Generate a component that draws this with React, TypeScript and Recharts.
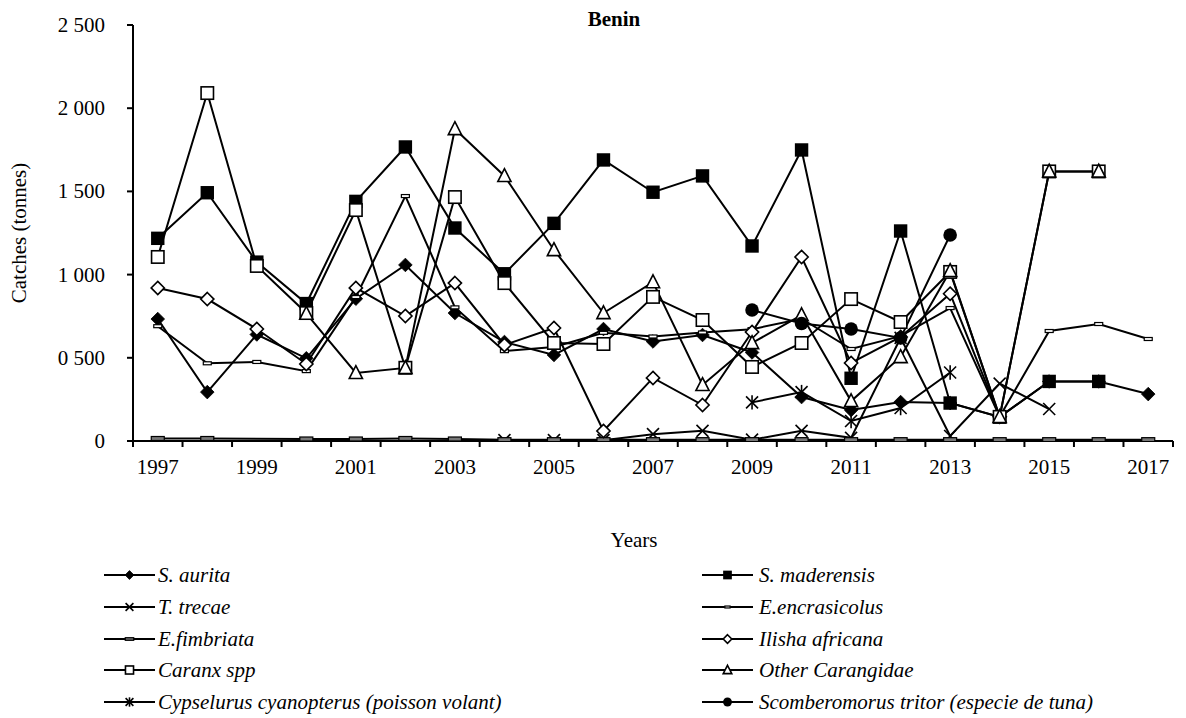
import React from 'react';
import { LineChart, Line, XAxis, YAxis, Legend, Customized } from 'recharts';

// ---------- DATA ----------
const years = [1997, 1998, 1999, 2000, 2001, 2002, 2003, 2004, 2005, 2006, 2007, 2008, 2009, 2010, 2011, 2012, 2013, 2014, 2015, 2016, 2017];

const sAurita = [733, 294, 640, 497, 855, 1058, 769, 595, 517, 673, 598, 637, 532, 264, 186, 234, 228, 145, 358, 358, 282];
const sMaderensis = [1218, 1492, 1075, 826, 1440, 1767, 1280, 1005, 1308, 1689, 1495, 1593, 1172, 1749, 377, 1262, 228, 145, 358, 358, null];
const tTrecae = [null, null, null, null, null, null, null, 5, 5, 5, 41, 61, 8, 61, 19, 620, 30, 345, 192, null, null];
const eEncrasicolus = [690, 467, 475, 420, 865, 1472, 803, 540, 565, 650, 628, 652, 672, 735, 553, 630, 799, 145, 661, 703, 613];
const eFimbriata = [15, 15, null, 12, 12, 15, 12, 8, 8, 8, 8, 8, 8, 8, 8, 8, 8, 8, 8, 8, 8];
const ilishaAfricana = [920, 853, 673, 463, 920, 751, 949, 577, 679, 60, 379, 216, 655, 1106, 469, 625, 885, 145, null, null, null];
const caranxSpp = [1106, 2091, 1052, 769, 1388, 440, 1466, 949, 589, 583, 866, 727, 445, 589, 853, 715, 1016, 145, 1620, 1620, null];
const otherCarangidae = [null, null, null, 765, 409, 439, 1875, 1593, 1148, 769, 955, 337, 589, 757, 240, 505, 1022, 145, 1620, 1620, null];
const cypselurus = [null, null, null, null, null, null, null, null, null, null, null, null, 232, 294, 120, 198, 412, null, null, null, null];
const scomberomorus = [null, null, null, null, null, null, null, null, null, null, null, null, 787, 706, 673, 619, 1238, null, null, null, null];

const yTicks = [0, 500, 1000, 1500, 2000, 2500];
const yTickLabels = ['0', '0 500', '1 000', '1 500', '2 000', '2 500'];

const seriesNames = [
  'S. aurita',
  'S. maderensis',
  'T. trecae',
  'E.encrasicolus',
  'E.fimbriata',
  'Ilisha africana',
  'Caranx spp',
  'Other Carangidae',
  'Cypselurus cyanopterus (poisson volant)',
  'Scomberomorus tritor (especie de tuna)',
];
const seriesKeys = ['sAurita', 'sMaderensis', 'tTrecae', 'eEncrasicolus', 'eFimbriata', 'ilisha', 'caranx', 'otherCarangidae', 'cypselurus', 'scomberomorus'];
const seriesValues = [sAurita, sMaderensis, tTrecae, eEncrasicolus, eFimbriata, ilishaAfricana, caranxSpp, otherCarangidae, cypselurus, scomberomorus];
const seriesShapes = ['diamondFilled', 'squareFilled', 'x', 'dashSmall', 'dashLarge', 'diamondOpen', 'squareOpen', 'triangleOpen', 'asterisk', 'circleFilled'];

const data = years.map((y, i) => {
  const row: Record<string, any> = { year: String(y) };
  seriesKeys.forEach((k, j) => {
    row[k] = seriesValues[j][i];
  });
  return row;
});

// ---------- LAYOUT ----------
const W = 1186;
const H = 718;
const MARGIN = { top: 25, right: 13, left: 0, bottom: 247 };
const Y_AXIS_W = 133;
const X_AXIS_H = 30;
const PLOT_W = W - MARGIN.left - MARGIN.right - Y_AXIS_W;
const BAND = PLOT_W / years.length;
const FONT = '"Liberation Serif", "Times New Roman", Times, serif';
const FS = 21;

function Marker({ shape, cx, cy, s = 1 }: { shape: string; cx: number; cy: number; s?: number }) {
  const sw = 1.6;
  switch (shape) {
    case 'diamondFilled': {
      const h = 6.8 * s;
      return <polygon points={`${cx},${cy - h} ${cx + h},${cy} ${cx},${cy + h} ${cx - h},${cy}`} fill="#000" stroke="#000" strokeWidth={0.8} />;
    }
    case 'diamondOpen': {
      const h = 6.6 * s;
      return <polygon points={`${cx},${cy - h} ${cx + h},${cy} ${cx},${cy + h} ${cx - h},${cy}`} fill="#fff" stroke="#000" strokeWidth={sw} />;
    }
    case 'squareFilled': {
      const h = 6.7 * s;
      return <rect x={cx - h} y={cy - h} width={2 * h} height={2 * h} fill="#000" />;
    }
    case 'squareOpen': {
      const h = 6.2 * s;
      return <rect x={cx - h} y={cy - h} width={2 * h} height={2 * h} fill="#fff" stroke="#000" strokeWidth={sw} />;
    }
    case 'triangleOpen': {
      const h = 6.6 * s;
      return <polygon points={`${cx},${cy - h * 1.1} ${cx + h},${cy + h * 0.85} ${cx - h},${cy + h * 0.85}`} fill="#fff" stroke="#000" strokeWidth={sw} />;
    }
    case 'x': {
      const h = 6 * s;
      return (
        <g stroke="#000" strokeWidth={sw}>
          <line x1={cx - h} y1={cy - h} x2={cx + h} y2={cy + h} />
          <line x1={cx - h} y1={cy + h} x2={cx + h} y2={cy - h} />
        </g>
      );
    }
    case 'asterisk': {
      const h = 6 * s;
      return (
        <g stroke="#000" strokeWidth={sw}>
          <line x1={cx - h} y1={cy - h} x2={cx + h} y2={cy + h} />
          <line x1={cx - h} y1={cy + h} x2={cx + h} y2={cy - h} />
          <line x1={cx} y1={cy - h * 1.2} x2={cx} y2={cy + h * 1.2} />
        </g>
      );
    }
    case 'dashSmall': {
      const w = 8 * s;
      const h = 3 * s;
      return <rect x={cx - w / 2} y={cy - h / 2} width={w} height={h} fill="#fff" stroke="#000" strokeWidth={1.2} />;
    }
    case 'dashLarge': {
      const w = 13 * s;
      const h = 4 * s;
      return <rect x={cx - w / 2} y={cy - h / 2} width={w} height={h} fill="#777" stroke="#000" strokeWidth={1.2} />;
    }
    case 'circleFilled':
    default:
      return <circle cx={cx} cy={cy} r={6.8 * s} fill="#000" />;
  }
}

const XTick = (props: any) => {
  const { x, y, payload, index } = props;
  const i = typeof index === 'number' ? index : payload?.index ?? 0;
  return (
    <g>
      <line x1={x - BAND / 2} x2={x - BAND / 2} y1={y} y2={y + 6} stroke="#000" strokeWidth={2} />
      {i === years.length - 1 && <line x1={x + BAND / 2} x2={x + BAND / 2} y1={y} y2={y + 6} stroke="#000" strokeWidth={2} />}
      {i % 2 === 0 && (
        <text x={x} y={y + 33} textAnchor="middle" fontFamily={FONT} fontSize={FS} fill="#000">
          {payload.value}
        </text>
      )}
    </g>
  );
};

const YTick = (props: any) => {
  const { x, y, payload } = props;
  const idx = yTicks.indexOf(Number(payload.value));
  return (
    <g>
      <line x1={x - 6} x2={x} y1={y} y2={y} stroke="#000" strokeWidth={2} />
      <text x={x - 28} y={y + 7} textAnchor="end" fontFamily={FONT} fontSize={FS} fill="#000">
        {idx >= 0 ? yTickLabels[idx] : payload.value}
      </text>
    </g>
  );
};

const renderLegend = () => (
  <div style={{ position: 'relative', width: W, height: 160, fontFamily: FONT, fontSize: FS, fontStyle: 'italic', color: '#000' }}>
    {seriesNames.map((name, i) => {
      const col = i % 2;
      const row = Math.floor(i / 2);
      const cy = 16 + row * 31.75;
      const x0 = col ? 702 : 104;
      const x1 = col ? 753 : 155;
      const tx = col ? 759 : 158;
      const len = x1 - x0;
      return (
        <React.Fragment key={seriesKeys[i]}>
          <svg style={{ position: 'absolute', left: x0 - 2, top: cy - 10 }} width={len + 4} height={20}>
            <line x1={2} x2={len + 2} y1={10} y2={10} stroke="#000" strokeWidth={2} />
            <Marker shape={seriesShapes[i]} cx={len / 2 + 2} cy={10} s={0.65} />
          </svg>
          <span style={{ position: 'absolute', left: tx, top: cy - 12, lineHeight: '24px', whiteSpace: 'nowrap' }}>{name}</span>
        </React.Fragment>
      );
    })}
  </div>
);

const Titles = () => (
  <g fontFamily={FONT} fill="#000">
    <text x={614} y={26} textAnchor="middle" fontSize={FS} fontWeight="bold">
      Benin
    </text>
    <text x={634} y={547} textAnchor="middle" fontSize={FS}>
      Years
    </text>
    <text transform="translate(26,233) rotate(-90)" textAnchor="middle" fontSize={FS}>
      Catches (tonnes)
    </text>
  </g>
);

export default function App() {
  return (
    <div style={{ position: 'absolute', left: 0, top: 0, width: W, height: H, background: '#fff' }}>
      <LineChart width={W} height={H} data={data} margin={MARGIN}>
        <XAxis
          dataKey="year"
          type="category"
          interval={0}
          height={X_AXIS_H}
          padding={{ left: BAND / 2, right: BAND / 2 }}
          tickLine={false}
          tickSize={0}
          tickMargin={0}
          axisLine={{ stroke: '#000', strokeWidth: 2 }}
          tick={<XTick />}
        />
        <YAxis
          type="number"
          domain={[0, 2500]}
          ticks={yTicks}
          interval={0}
          width={Y_AXIS_W}
          tickLine={false}
          tickSize={0}
          tickMargin={0}
          axisLine={{ stroke: '#000', strokeWidth: 2 }}
          tick={<YTick />}
          allowDataOverflow
        />
        {seriesKeys.map((k, j) => (
          <Line
            key={k}
            dataKey={k}
            name={seriesNames[j]}
            type="linear"
            stroke="#000"
            strokeWidth={2}
            isAnimationActive={false}
            connectNulls={k === 'eFimbriata'}
            activeDot={false}
            legendType="none"
            dot={(p: any) => {
              const key = `${k}-dot-${p.index}`;
              if (p.cx == null || p.cy == null || p.value == null || Number.isNaN(p.cy)) return <g key={key} />;
              return (
                <g key={key}>
                  <Marker shape={seriesShapes[j]} cx={p.cx} cy={p.cy} />
                </g>
              );
            }}
          />
        ))}
        <Legend
          layout="vertical"
          align="center"
          verticalAlign="middle"
          content={renderLegend}
          wrapperStyle={{ left: 0, top: 559, width: W, height: 160, margin: 0, padding: 0 }}
        />
        <Customized component={Titles} />
      </LineChart>
    </div>
  );
}
